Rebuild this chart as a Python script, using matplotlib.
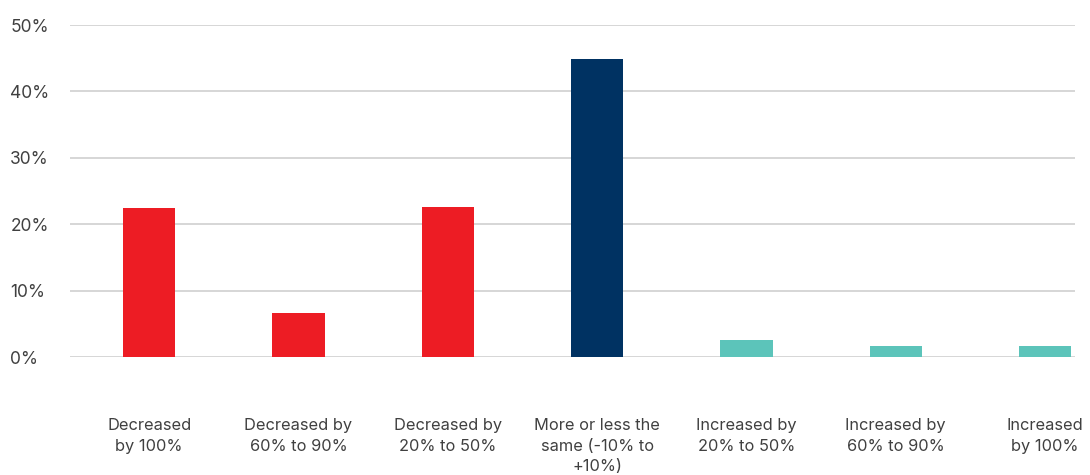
import matplotlib.pyplot as plt
from matplotlib.ticker import FuncFormatter

categories = ["Decreased\nby 100%", "Decreased by\n60% to 90%", "Decreased by\n20% to 50%",
              "More or less the\nsame (-10% to\n+10%)", "Increased by\n20% to 50%",
              "Increased by\n60% to 90%", "Increased\nby 100%"]
values = [22.4, 6.7, 22.6, 44.9, 2.6, 1.6, 1.6]
colors = ["#ED1C24", "#ED1C24", "#ED1C24", "#003262", "#5CC4BA", "#5CC4BA", "#5CC4BA"]
yticks = [0, 10, 20, 30, 40, 50]

plt.rcParams['font.family'] = ['Inter', 'DejaVu Sans']

fig = plt.figure(figsize=(10.9, 4.75), dpi=100)
ax = fig.add_axes([70 / 1090, 1 - 357 / 475, 1005 / 1090, 332 / 475])

x = list(range(len(values)))
ax.bar(x, values, width=0.35, color=colors, zorder=3)

ax.set_ylim(0, 50)
ax.set_xlim(-0.53, 6.2)
ax.set_yticks(yticks)
ax.yaxis.set_major_formatter(FuncFormatter(lambda v, p: f"{v:.0f}%"))
ax.grid(axis='y', color='#d0d0d0', linewidth=1.2, zorder=0)
ax.set_axisbelow(True)
for s in ax.spines.values():
    s.set_visible(False)

ax.tick_params(axis='y', length=0, pad=43, labelsize=12.5, labelcolor='#404040')
for lbl in ax.get_yticklabels():
    lbl.set_horizontalalignment('left')

ax.set_xticks(x)
ax.set_xticklabels(categories, fontsize=11.8, color='#404040', linespacing=1.45)
ax.tick_params(axis='x', length=0, pad=44)

fig.savefig("out.png", dpi=100)
